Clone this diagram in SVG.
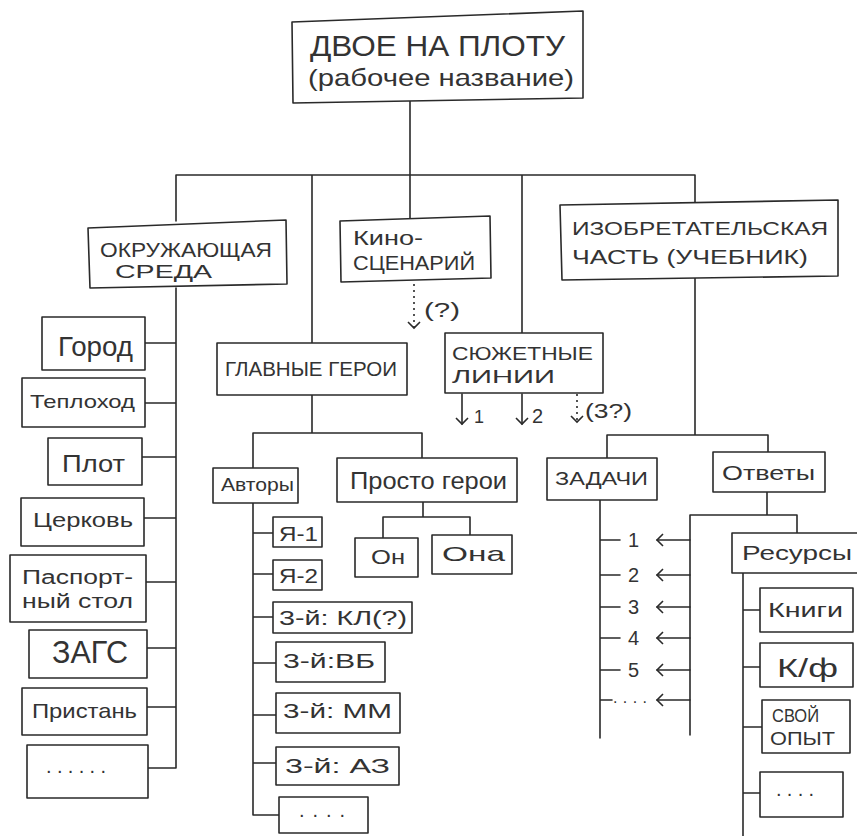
<svg xmlns="http://www.w3.org/2000/svg" width="857" height="836" viewBox="0 0 857 836">
<style>
.box{fill:#fff;stroke:#2a2a2a;stroke-width:1.6;stroke-linejoin:round}
.ln{fill:none;stroke:#2a2a2a;stroke-width:1.6;stroke-linecap:round}
.dot{fill:none;stroke:#2a2a2a;stroke-width:1.6;stroke-dasharray:2 4}
.t{font-family:'Liberation Sans','DejaVu Sans',sans-serif;fill:#333;}
</style>
<defs>
<marker id="v" markerUnits="userSpaceOnUse" markerWidth="14" markerHeight="14" refX="7" refY="7" orient="auto" viewBox="0 0 14 14">
<path d="M1,1 L7,7 L1,13" fill="none" stroke="#2a2a2a" stroke-width="1.6"/>
</marker>
</defs>
<rect width="857" height="836" fill="#fff"/>
<g id="connectors">
<path class="ln" d="M410,100 V175 M176,175 H695 M176,175 V221 M312,175 V343 M410,175 V219 M522,175 V333 M695,175 V203"/>
<path class="dot" d="M414,284 V328" marker-end="url(#v)"/>
<path class="ln" d="M462,394 V424" marker-end="url(#v)"/>
<path class="ln" d="M522,394 V424" marker-end="url(#v)"/>
<path class="dot" d="M577,394 V422" marker-end="url(#v)"/>
<path class="ln" d="M176,288 V768 M145,343 H176 M145,403 H176 M142,457 H176 M144,518 H176 M146,582 H176 M147,648 H176 M147,707 H176 M148,768 H176"/>
<path class="ln" d="M312,395 V433 M253,433 H422 M253,433 V468 M422,433 V458"/>
<path class="ln" d="M423,502 V517 M383,517 H470 M383,517 V538 M470,517 V535"/>
<path class="ln" d="M253,503 V815 M253,533 H273 M253,574 H273 M253,617 H273 M253,663 H276 M253,715 H276 M253,763 H276 M253,815 H279"/>
<path class="ln" d="M695,278 V435 M607,435 H768 M607,435 V458 M768,435 V452"/>
<path class="ln" d="M600,500 V738 M600,540 H620 M600,575 H620 M600,607 H620 M600,638 H620 M600,670 H620 M600,700 H612"/>
<path class="ln" d="M767,492 V515 M690,515 H797 M690,515 V735 M797,515 V533"/>
<path class="ln" d="M690,540 H657" marker-end="url(#v)"/>
<path class="ln" d="M690,575 H657" marker-end="url(#v)"/>
<path class="ln" d="M690,607 H657" marker-end="url(#v)"/>
<path class="ln" d="M690,638 H657" marker-end="url(#v)"/>
<path class="ln" d="M690,670 H657" marker-end="url(#v)"/>
<path class="ln" d="M690,700 H657" marker-end="url(#v)"/>
<path class="ln" d="M743,573 V836 M743,610 H760 M743,667 H760 M743,727 H762 M743,793 H760"/>
</g>
<g id="title">
<polygon class="box" points="292,22 583,11 583,98 293,103"/>
<text class="t" x="310" y="56" font-size="29" textLength="255" lengthAdjust="spacingAndGlyphs">ДВОЕ НА ПЛОТУ</text>
<text class="t" x="308" y="86" font-size="24" textLength="266" lengthAdjust="spacingAndGlyphs">(рабочее название)</text>
</g>
<g id="okr">
<polygon class="box" points="88,228 286,220 287,284 90,288"/>
<text class="t" x="100" y="257" font-size="20" textLength="172" lengthAdjust="spacingAndGlyphs">ОКРУЖАЮЩАЯ</text>
<text class="t" x="115" y="278" font-size="19" textLength="97" lengthAdjust="spacingAndGlyphs">СРЕДА</text>
</g>
<g id="kino">
<polygon class="box" points="340,221 490,216 491,278 341,282"/>
<text class="t" x="353" y="245" font-size="20" textLength="70" lengthAdjust="spacingAndGlyphs">Кино-</text>
<text class="t" x="353" y="270" font-size="20" textLength="122" lengthAdjust="spacingAndGlyphs">СЦЕНАРИЙ</text>
<text class="t" x="424" y="317" font-size="20" textLength="36" lengthAdjust="spacingAndGlyphs">(?)</text>
</g>
<g id="izobr">
<polygon class="box" points="560,205 838,200 838,276 562,280"/>
<text class="t" x="572" y="235" font-size="18" textLength="256" lengthAdjust="spacingAndGlyphs">ИЗОБРЕТАТЕЛЬСКАЯ</text>
<text class="t" x="572" y="264" font-size="20" textLength="236" lengthAdjust="spacingAndGlyphs">ЧАСТЬ (УЧЕБНИК)</text>
</g>
<g id="glavnye">
<rect class="box" x="217" y="343" width="190" height="52"/>
<text class="t" x="225" y="376" font-size="20" textLength="172" lengthAdjust="spacingAndGlyphs">ГЛАВНЫЕ ГЕРОИ</text>
</g>
<g id="syuzhet">
<rect class="box" x="445" y="333" width="158" height="60"/>
<text class="t" x="452" y="360" font-size="19" textLength="141" lengthAdjust="spacingAndGlyphs">СЮЖЕТНЫЕ</text>
<text class="t" x="452" y="383" font-size="19" textLength="103" lengthAdjust="spacingAndGlyphs">ЛИНИИ</text>
<text class="t" x="474" y="423" font-size="18">1</text>
<text class="t" x="532" y="423" font-size="20">2</text>
<text class="t" x="585" y="418" font-size="20" textLength="47" lengthAdjust="spacingAndGlyphs">(3?)</text>
</g>
<g id="gorod"><rect class="box" x="42" y="317" width="103" height="53"/><text class="t" x="58" y="356" font-size="28" textLength="75" lengthAdjust="spacingAndGlyphs">Город</text></g>
<g id="teplohod"><rect class="box" x="22" y="378" width="123" height="49"/><text class="t" x="30" y="408" font-size="19" textLength="105" lengthAdjust="spacingAndGlyphs">Теплоход</text></g>
<g id="plot"><rect class="box" x="48" y="438" width="94" height="47"/><text class="t" x="62" y="472" font-size="23" textLength="63" lengthAdjust="spacingAndGlyphs">Плот</text></g>
<g id="cerkov"><rect class="box" x="21" y="498" width="123" height="48"/><text class="t" x="33" y="527" font-size="21" textLength="100" lengthAdjust="spacingAndGlyphs">Церковь</text></g>
<g id="pasport"><rect class="box" x="10" y="555" width="136" height="67"/><text class="t" x="22" y="584" font-size="20" textLength="111" lengthAdjust="spacingAndGlyphs">Паспорт-</text><text class="t" x="22" y="608" font-size="20" textLength="111" lengthAdjust="spacingAndGlyphs">ный стол</text></g>
<g id="zags"><rect class="box" x="29" y="630" width="118" height="48"/><text class="t" x="52" y="663" font-size="31" textLength="76" lengthAdjust="spacingAndGlyphs">ЗАГС</text></g>
<g id="pristan"><rect class="box" x="22" y="688" width="125" height="47"/><text class="t" x="32" y="718" font-size="21" textLength="105" lengthAdjust="spacingAndGlyphs">Пристань</text></g>
<g id="etc-left"><rect class="box" x="27" y="745" width="121" height="53"/><text class="t" x="46" y="773" font-size="20" textLength="60" lengthAdjust="spacing">......</text></g>
<g id="avtory"><rect class="box" x="213" y="468" width="85" height="35"/><text class="t" x="221" y="491" font-size="18" textLength="73" lengthAdjust="spacingAndGlyphs">Авторы</text></g>
<g id="prosto"><rect class="box" x="337" y="458" width="180" height="44"/><text class="t" x="350" y="489" font-size="23" textLength="157" lengthAdjust="spacingAndGlyphs">Просто герои</text></g>
<g id="on"><rect class="box" x="355" y="538" width="63" height="39"/><text class="t" x="371" y="564" font-size="21" textLength="34" lengthAdjust="spacingAndGlyphs">Он</text></g>
<g id="ona"><rect class="box" x="432" y="535" width="80" height="39"/><text class="t" x="442" y="561" font-size="21" textLength="63" lengthAdjust="spacingAndGlyphs">Она</text></g>
<g id="ya1"><rect class="box" x="273" y="517" width="49" height="30"/><text class="t" x="279" y="541" font-size="20" textLength="39" lengthAdjust="spacingAndGlyphs">Я-1</text></g>
<g id="ya2"><rect class="box" x="273" y="560" width="49" height="30"/><text class="t" x="279" y="583" font-size="20" textLength="39" lengthAdjust="spacingAndGlyphs">Я-2</text></g>
<g id="kl"><rect class="box" x="273" y="602" width="139" height="31"/><text class="t" x="279" y="625" font-size="20" textLength="128" lengthAdjust="spacingAndGlyphs">3-й: КЛ(?)</text></g>
<g id="vb"><rect class="box" x="276" y="642" width="109" height="40"/><text class="t" x="283" y="668" font-size="21" textLength="92" lengthAdjust="spacingAndGlyphs">3-й:ВБ</text></g>
<g id="mm"><rect class="box" x="276" y="693" width="124" height="40"/><text class="t" x="283" y="718" font-size="21" textLength="109" lengthAdjust="spacingAndGlyphs">3-й: ММ</text></g>
<g id="az"><rect class="box" x="276" y="747" width="123" height="38"/><text class="t" x="285" y="773" font-size="21" textLength="105" lengthAdjust="spacingAndGlyphs">3-й: АЗ</text></g>
<g id="etc-avt"><rect class="box" x="279" y="797" width="89" height="36"/><text class="t" x="299" y="817" font-size="20" textLength="46" lengthAdjust="spacing">....</text></g>
<g id="zadachi"><rect class="box" x="547" y="458" width="110" height="42"/><text class="t" x="555" y="485" font-size="18" textLength="93" lengthAdjust="spacingAndGlyphs">ЗАДАЧИ</text></g>
<g id="otvety"><rect class="box" x="713" y="452" width="112" height="40"/><text class="t" x="722" y="480" font-size="21" textLength="93" lengthAdjust="spacingAndGlyphs">Ответы</text></g>
<g id="nums">
<text class="t" x="628" y="547" font-size="20">1</text>
<text class="t" x="628" y="582" font-size="20">2</text>
<text class="t" x="628" y="614" font-size="20">3</text>
<text class="t" x="628" y="645" font-size="20">4</text>
<text class="t" x="628" y="677" font-size="20">5</text>
<text class="t" x="613" y="703" font-size="16" textLength="34" lengthAdjust="spacing">....</text>
</g>
<g id="resursy"><rect class="box" x="732" y="533" width="126" height="40"/><text class="t" x="742" y="560" font-size="21" textLength="110" lengthAdjust="spacingAndGlyphs">Ресурсы</text></g>
<g id="knigi"><rect class="box" x="760" y="588" width="93" height="44"/><text class="t" x="768" y="617" font-size="21" textLength="75" lengthAdjust="spacingAndGlyphs">Книги</text></g>
<g id="kf"><rect class="box" x="760" y="643" width="93" height="44"/><text class="t" x="777" y="677" font-size="26" textLength="61" lengthAdjust="spacingAndGlyphs">К/ф</text></g>
<g id="opyt"><rect class="box" x="762" y="700" width="88" height="53"/><text class="t" x="772" y="722" font-size="18" textLength="47" lengthAdjust="spacingAndGlyphs">СВОЙ</text><text class="t" x="770" y="745" font-size="18" textLength="65" lengthAdjust="spacingAndGlyphs">ОПЫТ</text></g>
<g id="etc-res"><rect class="box" x="760" y="772" width="83" height="45"/><text class="t" x="776" y="796" font-size="20" textLength="38" lengthAdjust="spacing">....</text></g>
</svg>
